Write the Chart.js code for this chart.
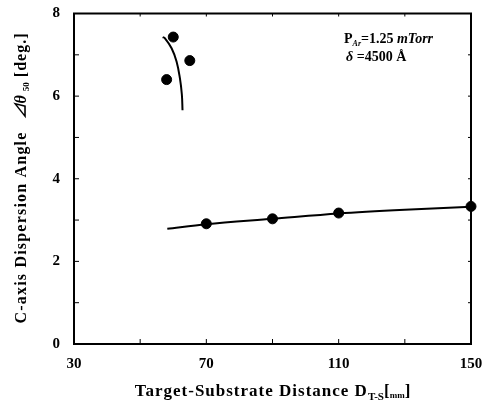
<!DOCTYPE html>
<html>
<head>
<meta charset="utf-8">
<script src="https://cdn.jsdelivr.net/npm/chart.js@4.4.0/dist/chart.umd.min.js"></script>
<style>
  html, body { margin: 0; padding: 0; background: #fff; }
</style>
</head>
<body>
<canvas id="grafico" width="492" height="408"></canvas>
<script>
// medidas
var distAlta = [58, 60, 65];
var anguloAlto = [6.40, 7.43, 6.86];
var curvaAltaX = [56.8, 57.5, 59.5, 61.0, 62.0, 62.6, 62.8];
var curvaAltaY = [7.43, 7.40, 7.16, 6.84, 6.44, 6.04, 5.66];

var distBaja = [70, 90, 110, 150];
var anguloBajo = [2.91, 3.03, 3.17, 3.33];
var curvaBajaX = [58.2, 70, 90, 110, 130, 150];
var curvaBajaY = [2.79, 2.90, 3.03, 3.16, 3.25, 3.32];

var xTicks = [30, 70, 110, 150];
var yTicks = [0, 2, 4, 6, 8];

var SERIF = '"Liberation Serif", "Noto Sans CJK JP", serif';

function pares(xs, ys) {
	var out = [];
	for (var i in xs) {
		out.push({x: xs[i], y: ys[i]});
	}
	return out;
}

// dibuja trozos de texto con fuentes distintas, uno tras otro
function textoPartes(ctx, partes, x, y, alinear) {
	var total = 0;
	partes.forEach(function(p) {
		ctx.font = p[1];
		ctx.letterSpacing = p[3] || '0px';
		total += ctx.measureText(p[0]).width;
	});
	var cx = alinear == 'center' ? x - total / 2 : x;
	partes.forEach(function(p) {
		ctx.font = p[1];
		ctx.letterSpacing = p[3] || '0px';
		ctx.fillText(p[0], cx, y + (p[2] || 0));
		cx += ctx.measureText(p[0]).width;
	});
	ctx.letterSpacing = '0px';
}

var marcoPlugin = {
	id: 'marco',
	afterDraw: function(chart) {
		var ctx = chart.ctx;
		var a = chart.chartArea;
		var sx = chart.scales.x;
		var sy = chart.scales.y;
		ctx.save();
		ctx.strokeStyle = '#000';
		ctx.fillStyle = '#000';

		// ticks hacia dentro
		ctx.lineWidth = 1;
		ctx.beginPath();
		for (var v = 0; v <= 8; v++) {
			var py = sy.getPixelForValue(v);
			ctx.moveTo(a.left, py);
			ctx.lineTo(a.left + 5, py);
			ctx.moveTo(a.right, py);
			ctx.lineTo(a.right - 3, py);
		}
		for (var d = 30; d <= 150; d += 20) {
			var px = sx.getPixelForValue(d);
			ctx.moveTo(px, a.bottom);
			ctx.lineTo(px, a.bottom - 5);
			ctx.moveTo(px, a.top);
			ctx.lineTo(px, a.top + 3);
		}
		ctx.stroke();

		// marco
		ctx.lineWidth = 2;
		ctx.strokeRect(a.left, a.top, a.right - a.left, a.bottom - a.top);

		ctx.textBaseline = 'alphabetic';

		// titulo eje y
		ctx.save();
		ctx.translate(21, 178);
		ctx.rotate(-Math.PI / 2);
		textoPartes(ctx, [
			['C-axis Dispersion Angle', 'bold 16px ' + SERIF, 0, '1.2px'],
			['   ', 'bold 16px ' + SERIF],
			['\u22BF\u03B8', 'italic bold 16px ' + SERIF],
			[' ', 'bold 16px ' + SERIF],
			['50', 'bold 9px ' + SERIF, 3],
			[' [deg.]', 'bold 16px ' + SERIF, 0, '1px']
		], 0, 5, 'center');
		ctx.restore();

		// titulo eje x
		textoPartes(ctx, [
			['Target-Substrate Distance D', 'bold 17px ' + SERIF, 0, '1px'],
			['T-S', 'bold 11px ' + SERIF, 4],
			['[', 'bold 17px ' + SERIF],
			['mm', 'bold 9px ' + SERIF, 2],
			[']', 'bold 17px ' + SERIF]
		], (a.left + a.right) / 2, 396, 'center');

		// condiciones
		textoPartes(ctx, [
			['P', 'bold 14px ' + SERIF],
			['Ar', 'italic bold 8px ' + SERIF, 3],
			['=1.25 ', 'bold 14px ' + SERIF],
			['mTorr', 'italic bold 14px ' + SERIF]
		], 344, 43, 'left');
		textoPartes(ctx, [
			['\u03B4', 'italic bold 14px ' + SERIF],
			[' =4500 \u00C5', 'bold 14px ' + SERIF]
		], 346, 61, 'left');

		ctx.restore();
	}
};

var chartdata = {
	datasets: [
		{
			label: 'curva alta',
			data: pares(curvaAltaX, curvaAltaY),
			showLine: true,
			borderColor: '#000',
			borderWidth: 2,
			tension: 0.4,
			pointRadius: 0,
			fill: false
		},
		{
			label: 'curva baja',
			data: pares(curvaBajaX, curvaBajaY),
			showLine: true,
			borderColor: '#000',
			borderWidth: 2,
			cubicInterpolationMode: 'monotone',
			pointRadius: 0,
			fill: false
		},
		{
			label: 'medidas alta',
			data: pares(distAlta, anguloAlto),
			showLine: false,
			backgroundColor: '#000',
			borderColor: '#000',
			pointRadius: 5,
			clip: false
		},
		{
			label: 'medidas baja',
			data: pares(distBaja, anguloBajo),
			showLine: false,
			backgroundColor: '#000',
			borderColor: '#000',
			pointRadius: 5,
			clip: false
		}
	]
};

var ctx = document.getElementById('grafico');

var grafico = new Chart(ctx, {
	type: 'scatter',
	data: chartdata,
	plugins: [marcoPlugin],
	options: {
		responsive: false,
		animation: false,
		devicePixelRatio: 1,
		layout: { padding: { left: 0, top: 12, right: 21, bottom: 0 } },
		plugins: {
			legend: { display: false },
			tooltip: { enabled: false }
		},
		scales: {
			x: {
				type: 'linear',
				min: 30,
				max: 150,
				afterBuildTicks: function(s) {
					s.ticks = xTicks.map(function(v) { return {value: v}; });
				},
				afterFit: function(s) { s.height = 64; },
				grid: { display: false },
				border: { display: false },
				ticks: {
					color: '#000',
					padding: 3,
					maxRotation: 0,
					font: { family: SERIF, size: 15, weight: 'bold' }
				}
			},
			y: {
				type: 'linear',
				min: 0,
				max: 8,
				afterBuildTicks: function(s) {
					s.ticks = yTicks.map(function(v) { return {value: v}; });
				},
				afterFit: function(s) { s.width = 74; },
				grid: { display: false },
				border: { display: false },
				ticks: {
					color: '#000',
					padding: 6,
					font: { family: SERIF, size: 15, weight: 'bold', lineHeight: 1 }
				}
			}
		}
	}
});
</script>
</body>
</html>
